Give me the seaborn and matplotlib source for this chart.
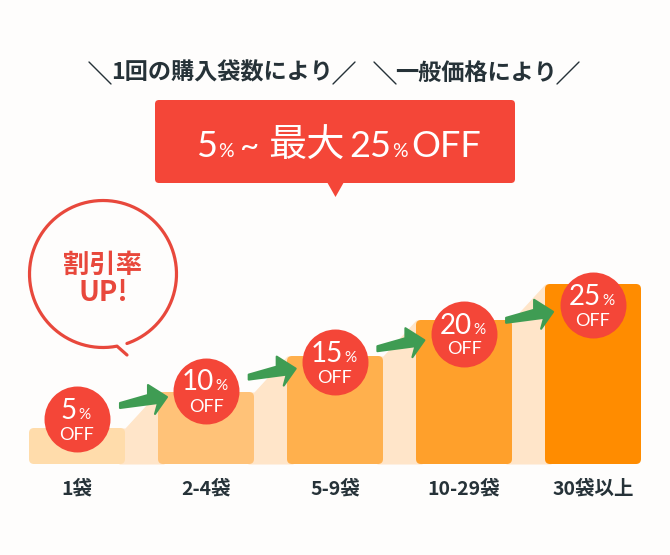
import matplotlib
matplotlib.use("Agg")
import matplotlib.pyplot as plt
import numpy as np
import pandas as pd
import seaborn as sns
from matplotlib.patches import FancyBboxPatch, Polygon
from matplotlib.transforms import Affine2D

bags = ["1袋", "2-4袋", "5-9袋", "10-29袋", "30袋以上"]
discounts = [5, 10, 15, 20, 25]
bar_colors = ["#FFDCAB", "#FFC278", "#FFB04D", "#FFA02B", "#FF8C00"]

W, H = 670, 555
BG = "#FEFDFC"
RED = "#F44638"
LINE_RED = "#E8483C"
DARK = "#263238"
GREEN = "#3F9C53"
PALE = "#FFE5C9"
JP = ["Noto Sans CJK JP", "DejaVu Sans"]
NARROW = ["Lato", "Noto Sans CJK JP"]

sns.set_theme(style="white")
plt.rcParams["font.family"] = JP

fig = plt.figure(figsize=(W / 100, H / 100), dpi=100, facecolor=BG)
base_px = 464
px_per_unit = 7.2
step_px = 129
ax = fig.add_axes([0, (H - base_px) / H, 1, base_px / H], facecolor=BG)

df = pd.DataFrame({"bags": bags, "discount": discounts})
sns.barplot(data=df, x="bags", y="discount", hue="bags", palette=bar_colors,
            width=96 / step_px, saturation=1, legend=False, ax=ax)
ax.set_xlim(-77 / step_px, (W - 77) / step_px)
ax.set_ylim(0, base_px / px_per_unit)
ax.set_xlabel("")
ax.set_ylabel("")
ax.set_yticks([])
ax.tick_params(axis="x", length=0, pad=11)
for lab in ax.get_xticklabels():
    lab.set_fontsize(14)
    lab.set_fontweight("bold")
    lab.set_color(DARK)
sns.despine(ax=ax, left=True, bottom=True)

# swap the square bars for rounded ones, same geometry
bars = list(ax.patches)
aspect = step_px / px_per_unit
for bar, color in zip(bars, bar_colors):
    rounded = FancyBboxPatch((bar.get_x(), 0), bar.get_width(), bar.get_height(),
                             boxstyle=f"round,pad=0,rounding_size={5 / step_px}",
                             mutation_aspect=aspect, fc=color, ec="none", zorder=3)
    ax.add_patch(rounded)
    bar.set_visible(False)

# pale steps between the bars
nudge = 6 / step_px
for a, b in zip(bars[:-1], bars[1:]):
    r = a.get_x() + a.get_width()
    l = b.get_x()
    ax.fill_between([r - nudge, r, l, l + nudge],
                    [a.get_height(), a.get_height(), b.get_height(), b.get_height()],
                    color=PALE, lw=0, zorder=2)

# everything else is placed in image pixels, y going down
px = Affine2D().scale(1, -1).translate(0, H)

# header
for x0, x1, label in [(112, 332, "1回の購入袋数により"), (397, 556, "一般価格により")]:
    ax.text((x0 + x1) / 2, 73, label, transform=px, ha="center", va="center",
            fontsize=16.7, fontweight="bold", color=DARK)
    ax.plot([x0 - 23, x0 - 1], [62, 84], transform=px, color=DARK, lw=1, zorder=4)
    ax.plot([x1 + 1, x1 + 23], [84, 62], transform=px, color=DARK, lw=1, zorder=4)

box = FancyBboxPatch((155, 100), 360, 83, boxstyle="round,pad=0,rounding_size=4",
                     transform=px, fc=RED, ec="none", zorder=4)
ax.add_patch(box)
ax.add_patch(Polygon([(327, 182), (344, 182), (335.5, 197)], transform=px,
                     fc=RED, ec="none", zorder=4))

banner = [(196, "5", 26, NARROW), (218, "%", 14, NARROW), (240, "~", 24, NARROW),
          (268, "最大", 27.5, JP), (349, "25", 26, NARROW), (392, "%", 14, NARROW),
          (411, "OFF", 26, NARROW)]
for x, s, size, fam in banner:
    ax.text(x, 157, s, transform=px, ha="left", va="baseline", fontsize=size,
            family=fam, color="white", zorder=5)

# speech bubble
cx, cy, rad = 103, 274, 73.5
theta = np.radians(np.linspace(79, 431, 200))
bx = np.r_[127, cx + rad * np.cos(theta)]
by = np.r_[355, cy + rad * np.sin(theta)]
ax.plot(bx, by, transform=px, color=LINE_RED, lw=2.3, solid_capstyle="round", zorder=4)
ax.text(103, 265, "割引率", transform=px, ha="center", va="center", fontsize=19,
        fontweight="bold", color=LINE_RED)
ax.text(103, 293, "UP!", transform=px, ha="center", va="center", fontsize=20,
        fontweight="bold", color=LINE_RED)

# arrows
shape = np.array([(0, -2), (28, -10), (28, -20), (47, -8), (35, 9), (38, -2), (0, 3)], float)
for i in range(len(discounts) - 1):
    pts = shape + [120 + 128.7 * i, 405 - 28.4 * i]
    ax.add_patch(Polygon(pts, transform=px, fc=GREEN, ec=GREEN, lw=1.5, joinstyle="round", zorder=6))

# badges
for i, d in enumerate(discounts):
    bx0 = 77 + step_px * i
    by0 = 419 - 28.5 * i
    ax.scatter([bx0], [by0], s=2256, color=RED, lw=0, transform=px, zorder=7)
    right = bx0 + (0 if d < 10 else 8)
    ax.text(right, by0, str(d), transform=px, ha="right", va="baseline", fontsize=20,
            family=NARROW, color="white", zorder=8)
    ax.text(right + 1.5, by0, "%", transform=px, ha="left", va="baseline", fontsize=11,
            family=NARROW, color="white", zorder=8)
    ax.text(bx0, by0 + 21, "OFF", transform=px, ha="center", va="baseline", fontsize=13,
            family=NARROW, color="white", zorder=8)

fig.savefig("out.png", dpi=100, facecolor=BG)
